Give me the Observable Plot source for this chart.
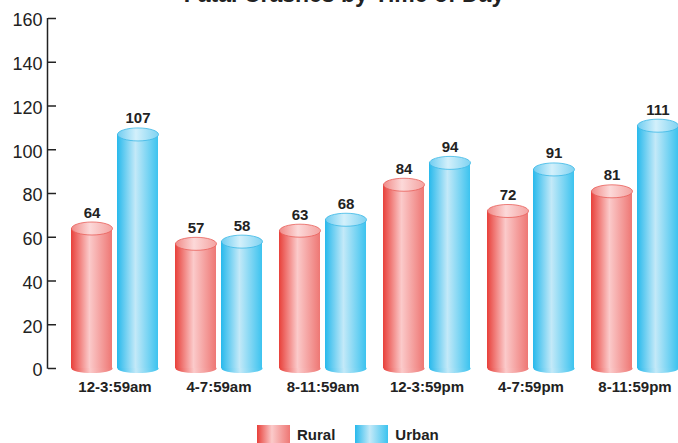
<!DOCTYPE html>
<html>
<head>
<meta charset="utf-8">
<script src="https://cdn.jsdelivr.net/npm/d3@7"></script>
<script src="https://cdn.jsdelivr.net/npm/@observablehq/plot@0.6"></script>
<style>
  html, body { margin: 0; padding: 0; background: #fff; }
  #wrap { position: relative; width: 678px; height: 443px; overflow: hidden;
          font-family: "Liberation Sans", Arial, Helvetica, sans-serif; color: #222; }
  #title { position: absolute; left: 0; width: 688px; top: -17px; text-align: center;
           font-size: 23px; font-weight: bold; line-height: 23px; }
  #chart { position: absolute; left: 0; top: 0; }
  #legend { position: absolute; top: 425px; left: 257px; display: flex; align-items: center;
            font-size: 15px; font-weight: bold; }
  .item { display: flex; align-items: center; margin-right: 20px; }
  .sw { width: 33px; height: 18px; margin-right: 7px; }
</style>
</head>
<body>
<div id="wrap">
  <div id="title">Fatal Crashes by Time of Day</div>
  <div id="chart"></div>
  <div id="legend"></div>
</div>
<script>
// Fatal crashes by time of day, rural vs urban
const periods = ["12-3:59am", "4-7:59am", "8-11:59am", "12-3:59pm", "4-7:59pm", "8-11:59pm"];
const series = ["Rural", "Urban"];
const rural = [64, 57, 63, 84, 72, 81];
const urban = [107, 58, 68, 94, 91, 111];
const yTicks = [0, 20, 40, 60, 80, 100, 120, 140, 160];

const ruralRows = periods.map((p, i) => ({period: p, series: "Rural", value: rural[i]}));
const urbanRows = periods.map((p, i) => ({period: p, series: "Urban", value: urban[i]}));

// cylinder shading
const shades = {
  Rural: {body: ["#e8403a", "#fbcaca", "#ee7774"], top: ["#f18a87", "#fcd9d9", "#f4a3a1"], rim: "#e8605b"},
  Urban: {body: ["#27b9ec", "#c3e9f8", "#3cc3ef"], top: ["#6fcdf1", "#d3f0fb", "#7fd3f2"], rim: "#3ab8e6"}
};

// elliptical cap drawn as a dot symbol
function ellipseSymbol(rx, ry) {
  const k = 0.5522847498;
  return {
    draw(ctx) {
      ctx.moveTo(-rx, 0);
      ctx.bezierCurveTo(-rx, -ry * k, -rx * k, -ry, 0, -ry);
      ctx.bezierCurveTo(rx * k, -ry, rx, -ry * k, rx, 0);
      ctx.bezierCurveTo(rx, ry * k, rx * k, ry, 0, ry);
      ctx.bezierCurveTo(-rx * k, ry, -rx, ry * k, -rx, 0);
      ctx.closePath();
    }
  };
}
const capTop = ellipseSymbol(20.5, 6.5);
const capBottom = ellipseSymbol(20.5, 4.5);
const half = 23;   // offset of each cylinder from the group centre
const inset = 46;  // band width minus one cylinder

// gradient definitions and the vertical axis line
function decorations(index, scales, values, dimensions) {
  const g = d3.create("svg:g");
  const defs = g.append("defs");
  for (const s of series) {
    for (const part of ["body", "top"]) {
      const grad = defs.append("linearGradient")
        .attr("id", `${s}-${part}`).attr("x1", 0).attr("x2", 1).attr("y1", 0).attr("y2", 0);
      const c = shades[s][part];
      grad.append("stop").attr("offset", "0%").attr("stop-color", c[0]);
      grad.append("stop").attr("offset", "45%").attr("stop-color", c[1]);
      grad.append("stop").attr("offset", "100%").attr("stop-color", c[2]);
    }
  }
  g.append("line")
    .attr("x1", dimensions.marginLeft - 0.5).attr("x2", dimensions.marginLeft - 0.5)
    .attr("y1", scales.y(160)).attr("y2", scales.y(0) + 0.75)
    .attr("stroke", "#222").attr("stroke-width", 1.5);
  return g.node();
}

function cylinders(rows, s, sign) {
  const sh = shades[s];
  return [
    Plot.dot(rows, {x: "period", y: 0, dx: sign * half, symbol: capBottom, fill: `url(#${s}-body)`, stroke: "none"}),
    Plot.barY(rows, {x: "period", y: "value", fill: `url(#${s}-body)`,
      insetLeft: sign > 0 ? inset : 0, insetRight: sign < 0 ? inset : 0}),
    Plot.dot(rows, {x: "period", y: "value", dx: sign * half, symbol: capTop,
      fill: `url(#${s}-top)`, stroke: sh.rim, strokeWidth: 0.8}),
    Plot.text(rows, {x: "period", y: "value", dx: sign * half, dy: -11, text: "value",
      lineAnchor: "bottom", fontWeight: "bold", fontSize: 15, fill: "#222"})
  ];
}

const chart = Plot.plot({
  width: 678,
  height: 420,
  marginLeft: 48,
  marginRight: 0,
  marginTop: 18,
  marginBottom: 52,
  style: {fontFamily: '"Liberation Sans", Arial, Helvetica, sans-serif', color: "#222", background: "transparent"},
  x: {domain: periods, paddingInner: 0.168, paddingOuter: 0.1, align: 1, label: null},
  y: {domain: [0, 160], label: null},
  marks: [
    decorations,
    Plot.axisY({ticks: yTicks, tickSize: 8, dx: 8, text: null, stroke: "#222", strokeWidth: 1.5}),
    Plot.axisY({ticks: yTicks, tickSize: 0, tickPadding: 6, fontSize: 18, dy: 2, fill: "#222", label: null}),
    ...cylinders(ruralRows, "Rural", -1),
    ...cylinders(urbanRows, "Urban", 1),
    Plot.axisX({tickSize: 0, tickPadding: 13, fontSize: 15, fontWeight: "bold", fill: "#222", label: null})
  ]
});
document.getElementById("chart").append(chart);

// legend
const legend = d3.select("#legend");
for (const s of series) {
  const c = shades[s].body;
  const item = legend.append("div").attr("class", "item");
  item.append("div").attr("class", "sw")
    .style("background", `linear-gradient(to right, ${c[0]} 0%, ${c[1]} 45%, ${c[2]} 100%)`);
  item.append("span").text(s);
}
</script>
</body>
</html>
